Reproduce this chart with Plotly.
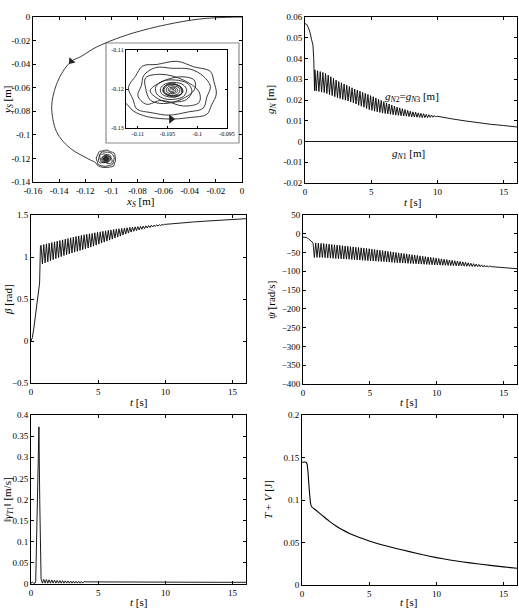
import plotly.graph_objects as go

W, H = 519, 613
FONT = "Liberation Serif, Times New Roman, serif"

# ---------------- data ----------------
# trajectory of S (m): approach arc, then spiral (offsets in mm about the centre)
APPROACH_X = [0.0, -0.012, -0.0324, -0.0579, -0.0834, -0.1013, -0.1141, -0.1230, -0.1307, -0.1370,
              -0.1421, -0.1447, -0.1457, -0.1447, -0.1421, -0.1370, -0.1294, -0.1204, -0.1160]
APPROACH_Y = [0.0, -0.0003, -0.0017, -0.0065, -0.0136, -0.0206, -0.0271, -0.0334, -0.0376, -0.0461,
              -0.0574, -0.0673, -0.0758, -0.0871, -0.0970, -0.1055, -0.1131, -0.1188, -0.1214]
SPIRAL_CENTER = (-0.1042, -0.1203)
SPIRAL_DX = [-7.9, -6.6, -4.2, -0.2,
             3.0, 5.8, 6.6, 7.4, 7.0, 6.4, 3.6, 0.8, -2.6, -5.0, -6.2, -7.4, -6.6, -6.0, -3.4,
             -0.6, 2.6, 5.2, 5.8, 6.4, 5.2, 3.0, 0.0, -2.8, -4.8, -5.2, -5.8, -4.4,
             -1.82, 1.90, 4.51, 4.48, 1.82, -1.90, -4.51, -4.48,
             -3.69, -1.48, 1.60, 3.74, 3.69, 1.48, -1.60, -3.74,
             -1.6, 0.6, 2.4, 3.3, 2.6, 0.5, -1.6, -2.8, -2.6, -1.3,
             0.5, 1.9, 2.4, 1.8, 0.3, -1.2, -2.0, -1.8, -0.7,
             0.8, 1.8, 1.2, -0.2, -1.5, -1.2, 0.2, 1.5, 1.4, 0.3, -1.1, -1.6, -0.8,
             0.6, 1.5, 1.7, 1.1, 0.0, -1.0, -1.4, -1.1, -0.3,
             0.6, 1.2, 1.2, 0.6, -0.3, -0.9, -1.0, -0.6, 0.0,
             0.6, 0.9, 0.7, 0.1, -0.5, -0.7, -0.5, -0.1,
             0.4, 0.6, 0.4, -0.1, -0.4, -0.4, -0.1, 0.2, 0.3, 0.1, -0.1, 0.0]
SPIRAL_DY = [-3.3, -5.3, -6.8, -7.4,
             -7.0, -6.2, -3.8, -1.0, 2.2, 4.8, 6.0, 7.4, 6.6, 6.2, 3.6, 0.6, -2.4, -4.8, -5.8,
             -6.4, -5.6, -4.6, -1.8, 1.0, 3.6, 5.4, 5.6, 5.8, 3.8, 1.2, -1.4, -3.6,
             -2.62, -4.07, -3.14, -0.37, 2.62, 4.07, 3.14, 0.37,
             -2.57, -3.43, -2.30, 0.19, 2.57, 3.43, 2.30, -0.19,
             -2.8, -3.0, -2.4, -0.3, 1.7, 2.6, 2.3, 0.8, -1.0, -2.2,
             -2.3, -1.6, 0.1, 1.4, 2.0, 1.6, 0.4, -0.9, -1.7,
             -1.6, -0.4, 1.0, 1.8, 0.6, -1.0, -1.4, -0.9, 0.6, 1.5, 1.2, -0.2, -1.3,
             -1.7, -1.0, 0.3, 1.2, 1.5, 1.0, 0.1, -0.8, -1.3,
             -1.2, -0.5, 0.4, 1.0, 1.1, 0.6, -0.2, -0.8, -0.9,
             -0.7, -0.1, 0.5, 0.8, 0.6, 0.1, -0.4, -0.6,
             -0.5, 0.0, 0.4, 0.5, 0.2, -0.2, -0.4, -0.3, 0.0, 0.2, 0.1, 0.0]
ARROW_MAIN = (-0.1307, -0.0376)
ARROW_INSET_D = (-0.2, -7.4)

# oscillation times (peaks at T_CYCLE, troughs half a period later)
T_CYCLE = [0.75, 0.95, 1.15, 1.35, 1.55, 1.75, 1.95, 2.15, 2.35, 2.55, 2.75, 2.95, 3.15, 3.35,
           3.55, 3.75, 3.95, 4.15, 4.35, 4.55, 4.75, 4.95, 5.15, 5.35, 5.55, 5.75, 5.95, 6.15,
           6.35, 6.55, 6.75, 6.95, 7.15, 7.35, 7.55, 7.75, 7.95, 8.15, 8.35, 8.55, 8.75, 8.95,
           9.15, 9.35, 9.55, 9.75, 9.95, 10.15, 10.35, 10.55, 10.75, 10.95, 11.15, 11.35, 11.55,
           11.75, 11.95, 12.15, 12.35, 12.55, 12.75, 12.95, 13.15, 13.35, 13.55, 13.75, 13.95]
HALF_PERIOD = 0.1

# g_N2 = g_N3 [m]
GN_PRE_T = [0.0, 0.12, 0.25, 0.38, 0.5, 0.6, 0.66, 0.72]
GN_PRE_V = [0.0568, 0.0565, 0.055, 0.0525, 0.049, 0.0465, 0.040, 0.0245]
GN_UP = [0.0345, 0.0341, 0.0337, 0.0333, 0.0328, 0.0320, 0.0312, 0.0304, 0.0296, 0.0289, 0.0283,
         0.0277, 0.0271, 0.0265, 0.0259, 0.0253, 0.0248, 0.0243, 0.0237, 0.0232, 0.0227, 0.0221,
         0.0216, 0.0210, 0.0204, 0.0198, 0.0192, 0.0186, 0.0181, 0.0176, 0.0171, 0.0166, 0.0162,
         0.0158, 0.0154, 0.0150, 0.0146, 0.0143, 0.0141, 0.0138, 0.0136, 0.0134, 0.0131, 0.0129,
         0.0127, 0.0125, 0.0122]
GN_LO = [0.0244, 0.0241, 0.0238, 0.0236, 0.0231, 0.0226, 0.0221, 0.0216, 0.0211, 0.0207, 0.0203,
         0.0199, 0.0195, 0.0191, 0.0186, 0.0181, 0.0175, 0.0170, 0.0165, 0.0159, 0.0154, 0.0150,
         0.0146, 0.0143, 0.0140, 0.0137, 0.0135, 0.0133, 0.0131, 0.0129, 0.0127, 0.0126, 0.0124,
         0.0123, 0.0122, 0.0120, 0.0119, 0.0118, 0.0117, 0.0116, 0.0115, 0.0115, 0.0115, 0.0116,
         0.0117, 0.0118]
GN_TAIL_T = [10.1, 11, 12, 13, 14, 15, 16]
GN_TAIL_V = [0.0120, 0.0110, 0.0100, 0.0091, 0.0083, 0.0077, 0.0070]
GN1_T = [0, 16]
GN1_V = [0, 0]

# beta [rad]
BE_PRE_T = [0.0, 0.1, 0.2, 0.32, 0.44, 0.55, 0.64, 0.70]
BE_PRE_V = [0.0, 0.04, 0.14, 0.28, 0.41, 0.55, 0.69, 1.12]
BE_UP = [1.140, 1.148, 1.156, 1.164, 1.172, 1.180, 1.188, 1.196, 1.204, 1.212, 1.220, 1.228,
         1.236, 1.244, 1.251, 1.258, 1.264, 1.270, 1.276, 1.281, 1.288, 1.294, 1.300, 1.306,
         1.311, 1.317, 1.322, 1.327, 1.332, 1.336, 1.340, 1.344, 1.348, 1.352, 1.355, 1.359,
         1.362, 1.365, 1.368, 1.371, 1.374, 1.377, 1.380, 1.383, 1.385, 1.387, 1.389]
BE_LO = [0.917, 0.930, 0.943, 0.957, 0.969, 0.981, 0.993, 1.005, 1.017, 1.028, 1.038, 1.048,
         1.058, 1.068, 1.078, 1.088, 1.098, 1.108, 1.118, 1.129, 1.141, 1.153, 1.165, 1.177,
         1.189, 1.201, 1.213, 1.225, 1.237, 1.249, 1.261, 1.273, 1.285, 1.297, 1.306, 1.314,
         1.322, 1.330, 1.338, 1.345, 1.351, 1.357, 1.363, 1.369, 1.375, 1.381]
BE_TAIL_T = [10.1, 11, 12, 13, 14, 15, 16]
BE_TAIL_V = [1.390, 1.405, 1.416, 1.427, 1.437, 1.447, 1.456]

# psi dot [rad/s]
PS_PRE_T = [0.0, 0.25, 0.4, 0.55, 0.7]
PS_PRE_V = [-9, -10, -13, -18, -23]
PS_UP = [-24.0, -24.5, -25.1, -25.6, -26.2, -27.0, -27.8, -28.6, -29.4, -30.2, -31.0, -31.8,
         -32.6, -33.4, -34.2, -35.0, -35.8, -36.6, -37.4, -38.2, -39.0, -39.8, -40.8, -41.8,
         -42.8, -43.8, -44.8, -45.8, -46.8, -47.8, -48.8, -49.8, -50.8, -51.8, -52.8, -53.8,
         -54.8, -55.8, -56.8, -57.8, -58.8, -59.8, -60.8, -61.8, -62.8, -63.8, -64.8, -65.8,
         -66.8, -67.8, -68.8, -69.8, -70.8, -71.8, -72.8, -73.8, -74.8, -76.0, -77.2, -78.4,
         -79.6, -80.8, -81.8, -82.8, -83.8, -84.8, -85.8]
PS_LO = [-63.0, -63.0, -63.0, -63.0, -63.5, -64.1, -64.7, -65.3, -65.9, -66.3, -66.7, -67.1,
         -67.5, -67.9, -68.4, -68.9, -69.5, -70.0, -70.5, -71.1, -71.6, -72.1, -72.5, -72.9,
         -73.3, -73.7, -74.2, -74.8, -75.4, -76.0, -76.6, -77.1, -77.5, -77.9, -78.3, -78.7,
         -79.1, -79.5, -79.9, -80.3, -80.7, -81.1, -81.5, -81.9, -82.3, -82.7, -83.1, -83.4,
         -83.7, -84.0, -84.3, -84.6, -84.9, -85.2, -85.5, -85.8, -86.1, -86.4, -86.7, -87.0,
         -87.3, -87.6, -87.9, -88.2, -88.5, -88.8]
PS_TAIL_T = [14.1, 15, 16]
PS_TAIL_V = [-87.6, -90.3, -93.0]

# ||gamma_T1|| [m/s]
GA_PRE_T = [0.0, 0.1, 0.2, 0.3, 0.35, 0.47, 0.59, 0.65, 0.71]
GA_PRE_V = [0.002, 0.004, 0.002, 0.002, 0.005, 0.18, 0.372, 0.20, 0.03]
GA_UP = [0.012, 0.011, 0.0105, 0.010, 0.0095, 0.009, 0.0085, 0.008, 0.0078, 0.0075, 0.0072,
         0.007, 0.0068, 0.0065, 0.0062, 0.006, 0.0058]
GA_LO = [0.002, 0.002, 0.002, 0.002, 0.002, 0.002, 0.002, 0.002, 0.002, 0.002, 0.002, 0.002,
         0.002, 0.002, 0.002, 0.002]
GA_TAIL_T = [4.1, 6, 8, 10, 12, 14, 16]
GA_TAIL_V = [0.005, 0.0045, 0.004, 0.004, 0.004, 0.004, 0.004]

# T + V [J]
EN_T = [0, 0.3, 0.38, 0.45, 0.55, 0.65, 0.72, 1.0, 1.5, 2.0, 2.5, 3.0, 3.5, 4.0, 4.5, 5.0, 6, 7,
        8, 9, 10, 11, 12, 13, 14, 15, 16]
EN_V = [0.1445, 0.1445, 0.142, 0.132, 0.11, 0.095, 0.092, 0.0885, 0.082, 0.0755, 0.0698, 0.065,
        0.061, 0.0576, 0.0546, 0.0518, 0.0470, 0.0430, 0.0393, 0.0355, 0.0322, 0.0295, 0.0271,
        0.0250, 0.0231, 0.0213, 0.0197]


def zigzag(pre_t, pre_v, up, lo, tail_t, tail_v):
    t, v = list(pre_t), list(pre_v)
    for i in range(len(up)):
        t.append(T_CYCLE[i]); v.append(up[i])
        if i < len(lo):
            t.append(round(T_CYCLE[i] + HALF_PERIOD, 3)); v.append(lo[i])
    return t + list(tail_t), v + list(tail_v)


traj_x = APPROACH_X + [SPIRAL_CENTER[0] + d / 1000 for d in SPIRAL_DX]
traj_y = APPROACH_Y + [SPIRAL_CENTER[1] + d / 1000 for d in SPIRAL_DY]

gn_t, gn_v = zigzag(GN_PRE_T, GN_PRE_V, GN_UP, GN_LO, GN_TAIL_T, GN_TAIL_V)
be_t, be_v = zigzag(BE_PRE_T, BE_PRE_V, BE_UP, BE_LO, BE_TAIL_T, BE_TAIL_V)
ps_t, ps_v = zigzag(PS_PRE_T, PS_PRE_V, PS_UP, PS_LO, PS_TAIL_T, PS_TAIL_V)
ga_t, ga_v = zigzag(GA_PRE_T, GA_PRE_V, GA_UP, GA_LO, GA_TAIL_T, GA_TAIL_V)

# ---------------- figure ----------------
fig = go.Figure()
LW = 0.9
line = dict(color="black", width=LW)

fig.add_trace(go.Scatter(x=traj_x, y=traj_y, mode="lines", xaxis="x", yaxis="y",
                         line=dict(color="#222", width=LW, shape="spline", smoothing=1.0)))
fig.add_trace(go.Scatter(x=[ARROW_MAIN[0]], y=[ARROW_MAIN[1]], mode="markers", xaxis="x", yaxis="y",
                         marker=dict(symbol="triangle-up", size=7, angle=220, color="#222")))
fig.add_trace(go.Scatter(x=traj_x, y=traj_y, mode="lines", xaxis="x7", yaxis="y7",
                         line=dict(color="#222", width=LW, shape="spline", smoothing=1.0)))
fig.add_trace(go.Scatter(x=[SPIRAL_CENTER[0] + ARROW_INSET_D[0] / 1000],
                         y=[SPIRAL_CENTER[1] + ARROW_INSET_D[1] / 1000], mode="markers",
                         xaxis="x7", yaxis="y7",
                         marker=dict(symbol="triangle-up", size=8, angle=90, color="#222")))
fig.add_trace(go.Scatter(x=gn_t, y=gn_v, mode="lines", xaxis="x2", yaxis="y2", line=line))
fig.add_trace(go.Scatter(x=GN1_T, y=GN1_V, mode="lines", xaxis="x2", yaxis="y2", line=line))
fig.add_trace(go.Scatter(x=be_t, y=be_v, mode="lines", xaxis="x3", yaxis="y3", line=line))
fig.add_trace(go.Scatter(x=ps_t, y=ps_v, mode="lines", xaxis="x4", yaxis="y4", line=line))
fig.add_trace(go.Scatter(x=ga_t, y=ga_v, mode="lines", xaxis="x5", yaxis="y5", line=line))
fig.add_trace(go.Scatter(x=EN_T, y=EN_V, mode="lines", xaxis="x6", yaxis="y6",
                         line=dict(color="black", width=1.1, shape="spline", smoothing=0.5)))


def xd(a, b):
    return [a / W, b / W]


def yd(top, bottom):
    return [1 - bottom / H, 1 - top / H]


def ax(**kw):
    d = dict(showline=True, linecolor="black", linewidth=0.8, mirror="ticks", ticks="inside",
             ticklen=3, tickwidth=0.8, tickcolor="black", showgrid=False, zeroline=False,
             automargin=False, tickfont=dict(family=FONT, size=9, color="black"))
    d.update(kw)
    return d


x1t = [-0.16, -0.14, -0.12, -0.1, -0.08, -0.06, -0.04, -0.02, 0]
y1t = [0, -0.02, -0.04, -0.06, -0.08, -0.1, -0.12, -0.14]
y2t = [-0.02, -0.01, 0, 0.01, 0.02, 0.03, 0.04, 0.05, 0.06]
x7t = [-0.11, -0.105, -0.1, -0.095]
y7t = [-0.13, -0.12, -0.11]
tt = [0, 5, 10, 15]

fig.update_layout(
    width=W, height=H, margin=dict(l=0, r=0, t=0, b=0), showlegend=False,
    paper_bgcolor="white", plot_bgcolor="white", template="none",
    font=dict(family=FONT, size=11, color="black"),
    xaxis=ax(domain=xd(33, 242), range=[-0.16, 0], anchor="y", tickvals=x1t,
             ticktext=["-0.16", "-0.14", "-0.12", "-0.1", "-0.08", "-0.06", "-0.04", "-0.02", "0"]),
    yaxis=ax(domain=yd(17, 182), range=[-0.14, 0], anchor="x", tickvals=y1t,
             ticktext=["0", "-0.02", "-0.04", "-0.06", "-0.08", "-0.1", "-0.12", "-0.14"]),
    xaxis2=ax(domain=xd(305, 517), range=[0, 16], anchor="y2", tickvals=tt),
    yaxis2=ax(domain=yd(17, 183), range=[-0.02, 0.06], anchor="x2", tickvals=y2t,
              ticktext=["-0.02", "-0.01", "0", "0.01", "0.02", "0.03", "0.04", "0.05", "0.06"]),
    xaxis3=ax(domain=xd(31, 246), range=[0, 16], anchor="y3", tickvals=tt),
    yaxis3=ax(domain=yd(215, 383), range=[-0.5, 1.5], anchor="x3", dtick=0.5),
    xaxis4=ax(domain=xd(303, 517), range=[0, 16], anchor="y4", tickvals=tt),
    yaxis4=ax(domain=yd(215, 384), range=[-400, 50], anchor="x4", dtick=50),
    xaxis5=ax(domain=xd(31, 246), range=[0, 16], anchor="y5", tickvals=tt),
    yaxis5=ax(domain=yd(415, 584), range=[0, 0.4], anchor="x5", dtick=0.05),
    xaxis6=ax(domain=xd(302, 517), range=[0, 16], anchor="y6", tickvals=tt),
    yaxis6=ax(domain=yd(415, 585), range=[0, 0.2], anchor="x6", dtick=0.05),
    xaxis7=ax(domain=xd(126, 227), range=[-0.112, -0.095], anchor="y7", tickvals=x7t,
              ticktext=["-0.11", "-0.105", "-0.1", "-0.095"], linewidth=1.3, ticklen=2,
              tickfont=dict(family=FONT, size=6, color="black")),
    yaxis7=ax(domain=yd(50, 128), range=[-0.13, -0.11], anchor="x7", tickvals=y7t,
              ticktext=["-0.13", "-0.12", "-0.11"], linewidth=1.3, ticklen=2,
              tickfont=dict(family=FONT, size=6, color="black")),
)

fig.add_shape(type="rect", xref="paper", yref="paper", x0=106 / W, x1=239 / W,
              y0=1 - 143 / H, y1=1 - 43 / H, line=dict(color="#8c8c8c", width=1.2),
              fillcolor="white", layer="below")

TF = dict(family=FONT, size=11, color="black")


def label(text, px, py, angle=0):
    fig.add_annotation(text=text, x=px / W, y=1 - py / H, xref="paper", yref="paper",
                       showarrow=False, textangle=angle, font=TF, xanchor="center",
                       yanchor="middle")


label("<i>x</i><sub><i>S</i></sub> [m]", 140, 202)
label("<i>y</i><sub><i>S</i></sub> [m]", 8, 100, -90)
label("<i>t</i> [s]", 412, 202)
label("<i>g</i><sub><i>N</i></sub> [m]", 271, 100, -90)
label("<i>t</i> [s]", 138, 402)
label("<i>β</i> [rad]", 8, 300, -90)
label("<i>t</i> [s]", 408, 402)
label("<i>ψ̇</i> [rad/s]", 271, 300, -90)
label("<i>t</i> [s]", 138, 602)
label("‖<i>γ</i><sub><i>T</i>1</sub>‖ [m/s]", 8, 500, -90)
label("<i>t</i> [s]", 408, 602)
label("<i>T</i> + <i>V</i> [J]", 268, 500, -90)
label("<i>g</i><sub><i>N</i>2</sub>=<i>g</i><sub><i>N</i>3</sub> [m]", 412, 97)
label("<i>g</i><sub><i>N</i>1</sub> [m]", 408, 154)

fig.write_html("out.html")
